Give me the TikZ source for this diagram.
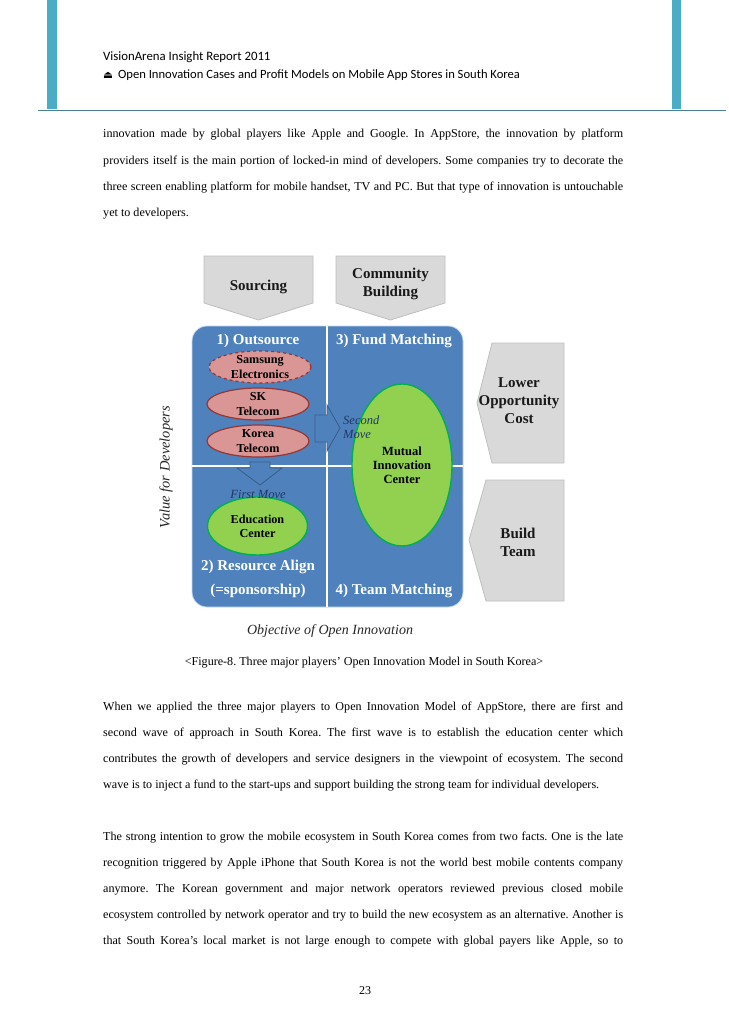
\documentclass[tikz,border=0pt]{standalone}
\usepackage{fontspec}
\setmainfont{Liberation Serif}
\newfontfamily\hdrfont{Carlito}
\newfontfamily\symfont{DejaVu Sans}
\usetikzlibrary{shapes.geometric}
\frenchspacing
\definecolor{barc}{HTML}{4BACC6}
\definecolor{rulec}{HTML}{4A8194}
\definecolor{blueA}{HTML}{4F81BD}
\definecolor{blueL}{HTML}{C6D9F1}
\definecolor{blueD}{HTML}{385D8A}
\definecolor{grayF}{HTML}{D9D9D9}
\definecolor{grayD}{HTML}{BFBFBF}
\definecolor{pinkF}{HTML}{D99694}
\definecolor{pinkD}{HTML}{953735}
\definecolor{greenF}{HTML}{92D050}
\definecolor{greenD}{HTML}{00B050}
\definecolor{moveC}{HTML}{1F3864}
\tikzset{
  bodyline/.style={anchor=base west, inner sep=0pt, font=\fontsize{12.1}{14}\selectfont},
  graybox/.style={fill=grayF, draw=grayD, line width=0.8pt},
  grlabel/.style={font=\bfseries\fontsize{15}{18}\selectfont, align=center, text=black!90, inner sep=0pt},
  quad/.style={font=\bfseries\fontsize{15}{18}\selectfont, text=white, inner sep=0pt},
  pinkell/.style={ellipse, fill=pinkF, draw=pinkD, line width=1.2pt, minimum width=102pt, minimum height=32pt, inner sep=0pt},
  greenell/.style={ellipse, fill=greenF, draw=greenD, line width=1.4pt, inner sep=0pt},
  elltext/.style={font=\bfseries\fontsize{12.2}{14.2}\selectfont, align=center, text=black, inner sep=0pt},
  movetext/.style={font=\itshape\fontsize{12.5}{13.5}\selectfont, text=moveC, inner sep=0pt},
  blockarrow/.style={fill=blueA, draw=blueD, line width=0.8pt},
  axislabel/.style={font=\itshape\fontsize{14}{16}\selectfont, text=black!85, inner sep=0pt}
}
\begin{document}
\begin{tikzpicture}[x=1pt,y=-1pt]
\useasboundingbox (0,0) rectangle (728,1030);
\fill[white] (0,0) rectangle (728,1030);
% header
\fill[barc] (47,0) rectangle (57,109);
\fill[barc] (672,0) rectangle (681,109);
\draw[rulec, line width=0.9pt] (38,110) -- (726,110);
\node[anchor=base west, inner sep=0pt, font=\hdrfont\fontsize{12.8}{15}\selectfont] (h1) at (103,61) {VisionArena Insight Report 2011};
\node[anchor=base west, inner sep=0pt, font=\hdrfont\fontsize{12.6}{15}\selectfont] (h2) at (103,79) {{\symfont\fontsize{10.5}{12}\selectfont ⏏}\, Open Innovation Cases and Profit Models on Mobile App Stores in South Korea};
% paragraph 1
\node[bodyline] (p1a) at (103,138) {\makebox[520pt][s]{innovation made by global players like Apple and Google. In AppStore, the innovation by platform}};
\node[bodyline] (p1b) at (103,164) {\makebox[520pt][s]{providers itself is the main portion of locked-in mind of developers. Some companies try to decorate the}};
\node[bodyline] (p1c) at (103,190) {\makebox[520pt][s]{three screen enabling platform for mobile handset, TV and PC. But that type of innovation is untouchable}};
\node[bodyline] (p1d) at (103,216) {yet to developers.};
% diagram: top arrows
\draw[graybox] (204,256) -- (313,256) -- (313,303) -- (258.5,320) -- (204,303) -- cycle;
\draw[graybox] (336,256) -- (445,256) -- (445,303) -- (390.5,320) -- (336,303) -- cycle;
\node[grlabel] (src) at (258.5,287) {Sourcing};
\node[grlabel] (comm) at (390.5,284) {Community\\Building};
% right arrows
\draw[graybox] (564,343) -- (564,463) -- (492,463) -- (477,403) -- (492,343) -- cycle;
\draw[graybox] (564,480) -- (564,601) -- (486,601) -- (469,540) -- (486,480) -- cycle;
\node[grlabel] (loc) at (519,401) {Lower\\Opportunity\\Cost};
\node[grlabel] (bt) at (518,542) {Build\\Team};
% blue matrix
\draw[fill=blueA, draw=blueL, line width=0.8pt, rounded corners=15pt] (192,326) rectangle (463,607);
\draw[white, line width=1.3pt] (327,326) -- (327,607);
\draw[white, line width=1.3pt] (192,466) -- (463,466);
\node[quad] (q1) at (258,341) {1) Outsource};
\node[quad] (q3) at (394,341) {3) Fund Matching};
\node[quad] (q2) at (258,567) {2) Resource Align};
\node[quad] (q2b) at (258,591) {(=sponsorship)};
\node[quad] (q4) at (394,591) {4) Team Matching};
% pink ellipses
\node[pinkell, dashed] (sam) at (260,367) {};
\node[elltext] at (sam.center) (samt) {Samsung\\Electronics};
\node[pinkell] (skt) at (258,404) {};
\node[elltext] at (skt.center) (sktt) {SK\\Telecom};
\node[pinkell] (kt) at (258,441) {};
\node[elltext] at (kt.center) (ktt) {Korea\\Telecom};
% block arrows
\draw[blockarrow] (250,462) -- (270,462) -- (270,468) -- (282,468) -- (260,485) -- (237,468) -- (250,468) -- cycle;
\draw[blockarrow] (315,415) -- (327,415) -- (327,405) -- (340,428) -- (327,451) -- (327,442) -- (315,442) -- cycle;
% green ellipses
\node[greenell, minimum width=100pt, minimum height=58pt] (edu) at (257.5,526) {};
\node[elltext] at (edu.center) (edut) {Education\\Center};
\node[greenell, minimum width=100pt, minimum height=162pt] (mic) at (402,465) {};
\node[elltext, font=\bfseries\fontsize{12.5}{13.8}\selectfont] at (mic.center) (mict) {Mutual\\Innovation\\Center};
% move labels
\node[movetext, anchor=west] (sec) at (343,420) {Second};
\node[movetext, anchor=west] (mov) at (343,434) {Move};
\node[movetext] (first) at (258,494) {First Move};
% axis labels
\node[axislabel, rotate=90, font=\itshape\fontsize{14.5}{16}\selectfont] (vd) at (166,467) {Value for Developers};
\node[axislabel] (obj) at (330,631) {Objective of Open Innovation};
% caption
\node[anchor=base, inner sep=0pt, font=\fontsize{12.1}{14}\selectfont] (cap) at (364,665) {<Figure-8. Three major players’ Open Innovation Model in South Korea>};
% paragraph 2
\node[bodyline] (p2a) at (103,710) {\makebox[520pt][s]{When we applied the three major players to Open Innovation Model of AppStore, there are first and}};
\node[bodyline] (p2b) at (103,736) {\makebox[520pt][s]{second wave of approach in South Korea. The first wave is to establish the education center which}};
\node[bodyline] (p2c) at (103,762) {\makebox[520pt][s]{contributes the growth of developers and service designers in the viewpoint of ecosystem. The second}};
\node[bodyline] (p2d) at (103,788) {wave is to inject a fund to the start-ups and support building the strong team for individual developers.};
% paragraph 3
\node[bodyline] (p3a) at (103,840) {\makebox[520pt][s]{The strong intention to grow the mobile ecosystem in South Korea comes from two facts. One is the late}};
\node[bodyline] (p3b) at (103,866) {\makebox[520pt][s]{recognition triggered by Apple iPhone that South Korea is not the world best mobile contents company}};
\node[bodyline] (p3c) at (103,892) {\makebox[520pt][s]{anymore. The Korean government and major network operators reviewed previous closed mobile}};
\node[bodyline] (p3d) at (103,918) {\makebox[520pt][s]{ecosystem controlled by network operator and try to build the new ecosystem as an alternative. Another is}};
\node[bodyline] (p3e) at (103,944) {\makebox[520pt][s]{that South Korea’s local market is not large enough to compete with global payers like Apple, so to}};
% page number
\node[anchor=base, inner sep=0pt, font=\fontsize{12}{14}\selectfont] (pg) at (365,994) {23};
\end{tikzpicture}
\end{document}
